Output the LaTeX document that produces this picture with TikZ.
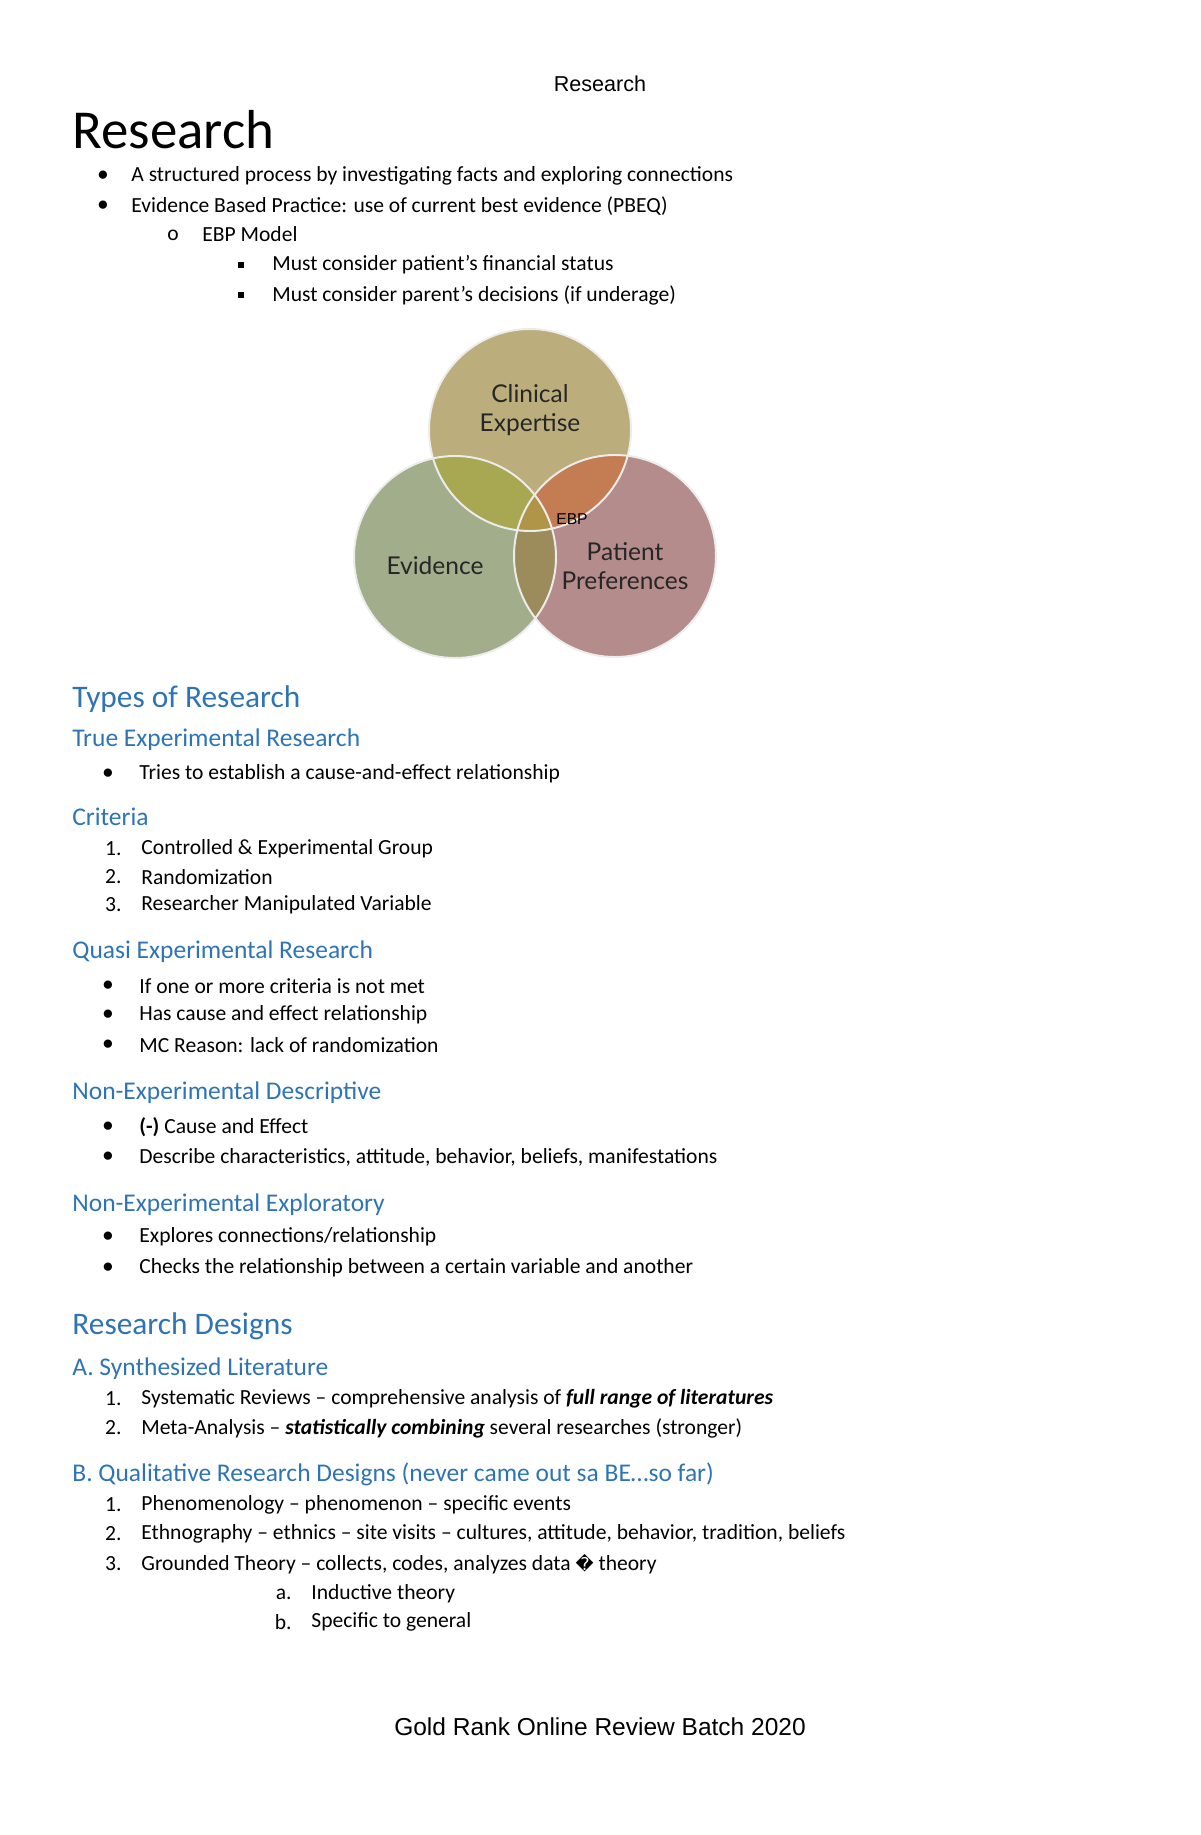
\documentclass[tikz,border=0pt]{standalone}
\usepackage{fontspec}
\setmainfont{Carlito}
\newfontfamily\arialf{Liberation Sans}
\newfontfamily\gillf{Lato}
\newfontfamily\dejaf{DejaVu Sans}
\definecolor{hblue}{HTML}{2E74B5}
\definecolor{cTop}{HTML}{BCAE7C}
\definecolor{cLeft}{HTML}{A2AD8C}
\definecolor{cRight}{HTML}{B58C8C}
\definecolor{cTL}{HTML}{A8A852}
\definecolor{cTR}{HTML}{C47C52}
\definecolor{cLR}{HTML}{9C8C5C}
\definecolor{cC}{HTML}{B09448}
\begin{document}
\begin{tikzpicture}[x=0.51pt,y=-0.51pt,
  t/.style={anchor=west,inner sep=0pt,font=\fontsize{11}{13}\selectfont},
  bl/.style={anchor=center,inner sep=0pt,font=\fontsize{11}{13}\selectfont},
  num/.style={anchor=east,inner sep=0pt,font=\fontsize{11}{13}\selectfont},
  h1/.style={anchor=west,inner sep=0pt,text=hblue,font=\fontsize{16}{18}\selectfont},
  h2/.style={anchor=west,inner sep=0pt,text=hblue,font=\fontsize{13}{15}\selectfont},
  vt/.style={align=center,inner sep=0pt,font=\gillf\fontsize{12.5}{15}\selectfont,text=black!85}]
\useasboundingbox (0,0) rectangle (1200,1835);
\node[inner sep=0pt,font=\arialf\fontsize{11}{13}\selectfont] (hdr) at (600,84) {Research};
\node[anchor=west,inner sep=0pt,font=\fontsize{28}{32}\selectfont] (title) at (72,130) {Research};
\node[bl] (b1) at (103,176) {$\bullet$}; \node[t] (t1) at (131,176) {A structured process by investigating facts and exploring connections};
\node[bl] (b2) at (103,206) {$\bullet$}; \node[t] (t2) at (131,206) {Evidence Based Practice: use of current best evidence (PBEQ)};
\node[bl] (b3) at (173,235) {o}; \node[t] (t3) at (202,234) {EBP Model};
\node[bl] (b4) at (241,265) {\rule{3pt}{3pt}}; \node[t] (t4) at (272,265) {Must consider patient’s financial status};
\node[bl] (b5) at (241,295) {\rule{3pt}{3pt}}; \node[t] (t5) at (272,295) {Must consider parent’s decisions (if underage)};
% Venn
\coordinate (T) at (530,430); \coordinate (L) at (455,557); \coordinate (R) at (615,556);
\def\rr{101}
\fill[cTop] (T) circle (\rr);
\fill[cLeft] (L) circle (\rr);
\fill[cRight] (R) circle (\rr);
\begin{scope}\clip (T) circle (\rr); \fill[cTL] (L) circle (\rr); \fill[cTR] (R) circle (\rr); \end{scope}
\begin{scope}\clip (L) circle (\rr); \fill[cLR] (R) circle (\rr); \end{scope}
\begin{scope}\clip (T) circle (\rr); \clip (L) circle (\rr); \fill[cC] (R) circle (\rr); \end{scope}
\foreach \c in {T,L,R} \draw[white!85!gray,line width=1pt] (\c) circle (\rr);
\node[vt] (ce) at (530,410) {Clinical\\Expertise};
\node[vt] (ev) at (435,566) {Evidence};
\node[vt] (pp) at (625,566) {Patient\\Preferences};
\node[inner sep=0pt,font=\arialf\fontsize{8}{10}\selectfont] (ebp) at (572,519) {EBP};
% Types
\node[h1] (h_types) at (72,699) {Types of Research};
\node[h2] (h_true) at (72,740) {True Experimental Research};
\node[bl] (b6) at (108,774) {$\bullet$}; \node[t] (t6) at (139,774) {Tries to establish a cause-and-effect relationship};
\node[h2] (h_crit) at (72,817) {Criteria};
\node[num] (n1) at (122,849) {1.}; \node[t] (t7) at (141,849) {Controlled \& Experimental Group};
\node[num] (n2) at (122,877) {2.}; \node[t] (t8) at (141,877) {Randomization};
\node[num] (n3) at (122,905) {3.}; \node[t] (t9) at (141,905) {Researcher Manipulated Variable};
\node[h2] (h_quasi) at (72,952) {Quasi Experimental Research};
\node[bl] (b10) at (108,986) {$\bullet$}; \node[t] (t10) at (139,986) {If one or more criteria is not met};
\node[bl] (b11) at (108,1015) {$\bullet$}; \node[t] (t11) at (139,1015) {Has cause and effect relationship};
\node[bl] (b12) at (108,1045) {$\bullet$}; \node[t] (t12) at (139,1045) {MC Reason: lack of randomization};
\node[h2] (h_ned) at (72,1093) {Non-Experimental Descriptive};
\node[bl] (b13) at (108,1127) {$\bullet$}; \node[t] (t13) at (139,1127) {\textbf{(-)} Cause and Effect};
\node[bl] (b14) at (108,1157) {$\bullet$}; \node[t] (t14) at (139,1157) {Describe characteristics, attitude, behavior, beliefs, manifestations};
\node[h2] (h_nee) at (72,1205) {Non-Experimental Exploratory};
\node[bl] (b15) at (108,1237) {$\bullet$}; \node[t] (t15) at (139,1237) {Explores connections/relationship};
\node[bl] (b16) at (108,1268) {$\bullet$}; \node[t] (t16) at (139,1268) {Checks the relationship between a certain variable and another};
% Designs
\node[h1] (h_des) at (72,1326) {Research Designs};
\node[h2] (h_a) at (72,1369) {A. Synthesized Literature};
\node[num] (n4) at (122,1399) {1.}; \node[t] (t17) at (141,1399) {Systematic Reviews – comprehensive analysis of \textbf{\textit{full range of literatures}}};
\node[num] (n5) at (122,1428) {2.}; \node[t] (t18) at (141,1428) {Meta-Analysis – \textbf{\textit{statistically combining}} several researches (stronger)};
\node[h2] (h_b) at (72,1474) {B. Qualitative Research Designs (never came out sa BE…so far)};
\node[num] (n6) at (122,1505) {1.}; \node[t] (t19) at (141,1505) {Phenomenology – phenomenon – specific events};
\node[num] (n7) at (122,1534) {2.}; \node[t] (t20) at (141,1534) {Ethnography – ethnics – site visits – cultures, attitude, behavior, tradition, beliefs};
\node[num] (n8) at (122,1564) {3.}; \node[t] (t21) at (141,1564) {Grounded Theory – collects, codes, analyzes data {\dejaf\fontsize{9}{11}\selectfont\symbol{"FFFD}} theory};
\node[num] (n9) at (292,1594) {a.}; \node[t] (t22) at (311,1594) {Inductive theory};
\node[num] (n10) at (292,1622) {b.}; \node[t] (t23) at (311,1622) {Specific to general};
\node[inner sep=0pt,font=\arialf\fontsize{12.5}{15}\selectfont] (ftr) at (600,1727) {Gold Rank Online Review Batch 2020};
\end{tikzpicture}
\end{document}
